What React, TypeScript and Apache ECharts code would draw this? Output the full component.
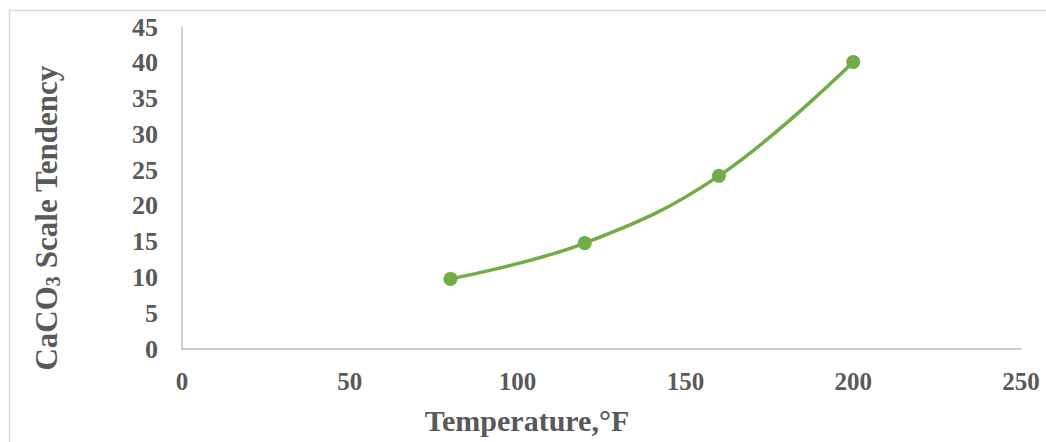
import React, { useEffect, useRef } from "react";
import * as echarts from "echarts";

const temperatures = [80, 120, 160, 200];
const scaleTendency = [9.8, 14.8, 24.2, 40.1];
const xTicks = [0, 50, 100, 150, 200, 250];
const yTicks = [0, 5, 10, 15, 20, 25, 30, 35, 40, 45];
const xTitle = "Temperature,°F";
const yTitle = "{n|CaCO}{s|3}{n| Scale Tendency}";

export default function App() {
  const ref = useRef<HTMLDivElement>(null);
  useEffect(() => {
    document.body.style.margin = "0";
    const chart = echarts.init(ref.current!, undefined, { renderer: "svg" });
    const font = "'Liberation Serif', 'Times New Roman', serif";
    chart.setOption({
      animation: false,
      backgroundColor: "#ffffff",
      graphic: [
        {
          type: "rect",
          shape: { x: 9.5, y: 10.5, width: 1100, height: 500 },
          style: { fill: "none", stroke: "#d9d9d9", lineWidth: 1.5 },
          silent: true,
        },
        {
          type: "text",
          x: 527,
          y: 420,
          style: {
            text: xTitle,
            fontFamily: font,
            fontWeight: "bold",
            fontSize: 30,
            fill: "#595959",
            align: "center",
            verticalAlign: "middle",
          },
          silent: true,
        },
        {
          type: "text",
          x: 46,
          y: 218,
          rotation: Math.PI / 2,
          style: {
            text: yTitle,
            align: "center",
            verticalAlign: "middle",
            rich: {
              n: { fontFamily: font, fontWeight: "bold", fontSize: 31, fill: "#595959", color: "#595959" },
              s: {
                fontFamily: font,
                fontWeight: "bold",
                fontSize: 20,
                fill: "#595959",
                color: "#595959",
                padding: [14, 0, 0, 0],
              },
            },
          },
          silent: true,
        },
      ],
      grid: { left: 182, right: 25, top: 27, bottom: 93 },
      xAxis: {
        type: "value",
        min: xTicks[0],
        max: xTicks[xTicks.length - 1],
        interval: 50,
        axisLine: { show: true, lineStyle: { color: "#bfbfbf", width: 1.5 } },
        axisTick: { show: false },
        splitLine: { show: false },
        axisLabel: { fontFamily: font, fontWeight: "bold", fontSize: 25, color: "#595959", margin: 20 },
      },
      yAxis: {
        type: "value",
        min: yTicks[0],
        max: yTicks[yTicks.length - 1],
        interval: 5,
        axisLine: { show: true, lineStyle: { color: "#bfbfbf", width: 1.5 } },
        axisTick: { show: false },
        splitLine: { show: false },
        axisLabel: { fontFamily: font, fontWeight: "bold", fontSize: 26, color: "#595959", margin: 24 },
      },
      series: [
        {
          type: "line",
          data: temperatures.map((t, i) => [t, scaleTendency[i]]),
          smooth: 0.4,
          symbol: "circle",
          symbolSize: 14,
          itemStyle: { color: "#70ad47" },
          lineStyle: { color: "#70ad47", width: 3.5 },
        },
      ],
    });
    return () => chart.dispose();
  }, []);
  return <div ref={ref} style={{ width: 1046, height: 442 }} />;
}
